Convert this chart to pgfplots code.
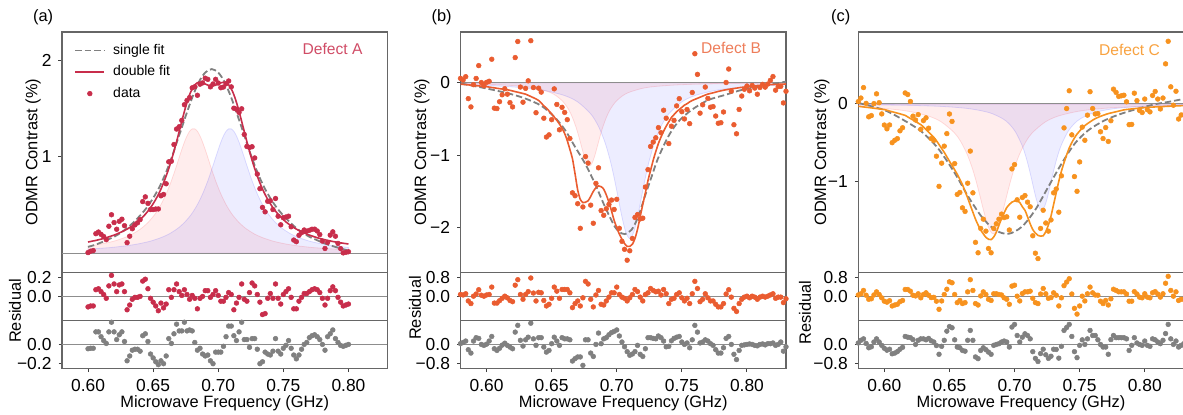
\documentclass[border=0pt]{standalone}
\usepackage{fontspec}
\setmainfont{Liberation Sans}
\usepackage{pgfplots}
\usepackage{pgfplotstable}
\pgfplotsset{compat=1.18}
\definecolor{cA}{RGB}{200,45,75}
\definecolor{cB}{RGB}{234,92,48}
\definecolor{cC}{RGB}{247,146,30}
\definecolor{gr}{RGB}{128,128,128}

% panel (a): x, data, residual double, residual single, red comp, blue comp, double fit
\pgfplotstableread{
x d rd rs R B D
0.600 0.006 -0.11 -0.045 0.074 0.042 0.116
0.602 0.021 -0.10 -0.04 0.078 0.044 0.121
0.604 0.027 -0.10 -0.04 0.082 0.045 0.127
0.606 0.202 0.07 0.13 0.086 0.047 0.132
0.608 0.219 0.08 0.13 0.090 0.049 0.139
0.610 0.195 0.05 0.08 0.095 0.051 0.145
0.612 0.173 0.02 0.04 0.100 0.053 0.153
0.614 0.140 -0.02 0.01 0.106 0.055 0.160
0.616 0.279 0.11 0.13 0.112 0.057 0.169
0.618 0.398 0.22 0.23 0.118 0.059 0.178
0.620 0.317 0.13 0.13 0.125 0.062 0.187
0.622 0.248 0.05 0.05 0.133 0.065 0.198
0.624 0.330 0.12 0.10 0.142 0.068 0.210
0.626 0.352 0.13 0.13 0.151 0.071 0.222
0.628 0.285 0.05 0.03 0.161 0.074 0.235
0.630 0.109 -0.14 -0.17 0.172 0.078 0.249
0.632 0.176 -0.09 -0.12 0.184 0.082 0.266
0.634 0.253 -0.03 -0.06 0.197 0.086 0.283
0.636 0.293 -0.01 -0.05 0.213 0.090 0.303
0.638 0.314 -0.01 -0.05 0.230 0.095 0.324
0.640 0.348 0.00 -0.07 0.248 0.100 0.348
0.642 0.534 0.16 0.09 0.268 0.106 0.374
0.644 0.583 0.18 0.11 0.292 0.112 0.403
0.646 0.516 0.08 0.03 0.317 0.118 0.436
0.648 0.452 -0.02 -0.10 0.347 0.125 0.472
0.650 0.452 -0.06 -0.14 0.379 0.133 0.512
0.652 0.457 -0.10 -0.18 0.415 0.142 0.557
0.654 0.458 -0.15 -0.21 0.457 0.151 0.608
0.656 0.594 -0.07 -0.17 0.503 0.161 0.664
0.658 0.608 -0.12 -0.20 0.556 0.172 0.728
0.660 0.719 -0.08 -0.12 0.614 0.184 0.799
0.662 0.946 0.07 0.06 0.679 0.197 0.876
0.664 0.952 -0.01 0.01 0.749 0.213 0.962
0.666 1.125 0.07 0.11 0.826 0.230 1.055
0.668 1.285 0.13 0.21 0.907 0.248 1.155
0.670 1.309 0.05 0.14 0.991 0.268 1.259
0.672 1.375 0.01 0.14 1.073 0.292 1.365
0.674 1.537 0.07 0.23 1.149 0.317 1.467
0.676 1.581 0.02 0.14 1.214 0.347 1.561
0.678 1.611 -0.03 0.15 1.262 0.379 1.641
0.680 1.712 0.01 0.14 1.287 0.415 1.702
0.682 1.723 -0.02 0.02 1.287 0.457 1.743
0.684 1.635 -0.13 -0.06 1.262 0.503 1.765
0.686 1.750 -0.02 -0.04 1.214 0.556 1.770
0.688 1.763 0.00 -0.10 1.149 0.614 1.763
0.690 1.812 0.06 -0.12 1.073 0.679 1.752
0.692 1.800 0.06 -0.11 0.991 0.749 1.740
0.694 1.722 -0.01 -0.17 0.907 0.826 1.732
0.696 1.752 0.02 -0.20 0.826 0.907 1.732
0.698 1.800 0.06 -0.08 0.749 0.991 1.740
0.700 1.762 0.01 -0.08 0.679 1.073 1.752
0.702 1.713 -0.05 -0.08 0.614 1.149 1.763
0.704 1.720 -0.05 -0.02 0.556 1.214 1.770
0.706 1.755 -0.01 0.08 0.503 1.262 1.765
0.708 1.783 0.04 0.19 0.457 1.287 1.743
0.710 1.722 0.02 0.19 0.415 1.287 1.702
0.712 1.501 -0.14 0.09 0.379 1.262 1.641
0.714 1.491 -0.07 0.04 0.347 1.214 1.561
0.716 1.457 -0.01 0.13 0.317 1.149 1.467
0.718 1.495 0.13 0.23 0.292 1.073 1.365
0.720 1.229 -0.03 0.05 0.268 0.991 1.259
0.722 1.105 -0.05 0.05 0.248 0.907 1.155
0.724 1.095 0.04 -0.03 0.230 0.826 1.055
0.726 1.102 0.14 0.06 0.213 0.749 0.962
0.728 0.986 0.11 0.06 0.197 0.679 0.876
0.730 0.819 0.02 -0.05 0.184 0.614 0.799
0.732 0.668 -0.06 -0.20 0.172 0.556 0.728
0.734 0.474 -0.19 -0.18 0.161 0.503 0.664
0.736 0.428 -0.18 -0.08 0.151 0.457 0.608
0.738 0.537 -0.02 -0.10 0.142 0.415 0.557
0.740 0.542 0.03 -0.11 0.133 0.379 0.512
0.742 0.452 -0.02 -0.07 0.125 0.347 0.472
0.744 0.566 0.13 0.06 0.118 0.317 0.436
0.746 0.383 -0.02 -0.07 0.112 0.292 0.403
0.748 0.294 -0.08 -0.10 0.106 0.268 0.374
0.750 0.368 0.02 -0.04 0.100 0.248 0.348
0.752 0.374 0.05 -0.01 0.095 0.230 0.324
0.754 0.383 0.08 0.04 0.090 0.213 0.303
0.756 0.273 -0.01 -0.04 0.086 0.197 0.283
0.758 0.136 -0.13 -0.11 0.082 0.184 0.266
0.760 0.119 -0.13 -0.15 0.078 0.172 0.249
0.762 0.185 -0.05 -0.11 0.074 0.161 0.235
0.764 0.212 -0.01 -0.05 0.071 0.151 0.222
0.766 0.240 0.03 0.00 0.068 0.142 0.210
0.768 0.228 0.03 0.02 0.065 0.133 0.198
0.770 0.237 0.05 0.07 0.062 0.125 0.187
0.772 0.248 0.07 0.09 0.059 0.118 0.178
0.774 0.249 0.08 0.10 0.057 0.112 0.169
0.776 0.230 0.07 0.08 0.055 0.106 0.160
0.778 0.193 0.04 0.05 0.053 0.100 0.153
0.780 0.125 -0.02 0.00 0.051 0.095 0.145
0.782 0.049 -0.09 -0.06 0.049 0.090 0.139
0.784 0.112 -0.02 0.08 0.047 0.086 0.132
0.786 0.187 0.06 0.11 0.045 0.082 0.127
0.788 0.221 0.10 0.15 0.044 0.078 0.121
0.790 0.176 0.06 0.06 0.042 0.074 0.116
0.792 0.101 -0.01 0.02 0.041 0.071 0.111
0.794 0.047 -0.06 -0.01 0.039 0.068 0.107
0.796 0.003 -0.10 -0.02 0.038 0.065 0.103
0.798 0.009 -0.09 -0.01 0.037 0.062 0.099
0.800 0.015 -0.08 0.00 0.035 0.059 0.095
}\tabA

% panel (b): x, data, residual double, residual single, double fit
\pgfplotstableread{
x d rd rs D
0.580 0.060 0.08 0.03 -0.020
0.582 0.037 0.06 0.08 -0.023
0.584 0.083 0.11 0.14 -0.027
0.586 -0.220 -0.19 -0.22 -0.030
0.588 -0.334 -0.30 -0.36 -0.034
0.590 -0.027 0.01 0.14 -0.037
0.592 0.059 0.10 0.28 -0.041
0.594 0.236 0.28 0.25 -0.044
0.596 0.002 0.05 0.00 -0.048
0.598 -0.041 0.01 -0.04 -0.051
0.600 0.005 0.06 0.01 -0.055
0.602 0.020 0.08 0.14 -0.060
0.604 0.324 0.39 0.33 -0.066
0.606 -0.351 -0.28 -0.18 -0.071
0.608 -0.357 -0.28 -0.25 -0.077
0.610 -0.262 -0.18 -0.16 -0.082
0.612 -0.167 -0.08 -0.03 -0.087
0.614 -0.083 0.01 0.05 -0.093
0.616 -0.158 -0.06 -0.04 -0.098
0.618 -0.275 -0.17 -0.11 -0.105
0.620 -0.334 -0.22 -0.18 -0.114
0.622 0.347 0.47 0.51 -0.123
0.624 0.569 0.70 0.79 -0.131
0.626 -0.060 0.08 0.17 -0.140
0.628 -0.269 -0.12 -0.07 -0.149
0.630 -0.078 0.08 0.19 -0.158
0.632 0.026 0.20 0.30 -0.174
0.634 0.580 0.77 0.88 -0.190
0.636 -0.067 0.14 0.23 -0.207
0.638 -0.414 -0.19 -0.04 -0.224
0.640 -0.075 0.17 0.28 -0.245
0.642 -0.130 0.15 0.28 -0.280
0.644 -0.490 -0.17 -0.11 -0.320
0.646 -0.750 -0.40 -0.32 -0.350
0.648 -0.720 -0.33 -0.25 -0.390
0.650 -0.510 -0.08 0.03 -0.430
0.652 -0.085 0.39 0.30 -0.475
0.654 -0.300 0.22 0.14 -0.520
0.656 -0.650 -0.08 -0.04 -0.570
0.658 -0.340 0.29 0.28 -0.630
0.660 -0.410 0.29 0.23 -0.700
0.662 -0.510 0.29 0.23 -0.800
0.664 -0.770 0.15 0.19 -0.920
0.666 -1.520 -0.47 -0.69 -1.050
0.668 -1.560 -0.30 -0.59 -1.260
0.670 -1.670 -0.19 -0.52 -1.480
0.672 -2.010 -0.40 -0.52 -1.610
0.674 -1.715 -0.06 -0.87 -1.655
0.676 -1.020 0.63 0.19 -1.650
0.678 -1.110 0.52 0.19 -1.630
0.680 -1.690 -0.12 -0.36 -1.570
0.682 -1.940 -0.44 -0.50 -1.500
0.684 -1.390 0.06 0.00 -1.450
0.686 -1.175 0.25 0.47 -1.425
0.688 -1.765 -0.33 0.03 -1.435
0.690 -1.830 -0.36 0.23 -1.470
0.692 -1.740 -0.19 0.28 -1.550
0.694 -1.680 -0.03 0.40 -1.650
0.696 -1.620 0.15 0.49 -1.770
0.698 -1.750 0.15 0.54 -1.900
0.700 -1.610 0.39 0.60 -2.000
0.702 -2.010 0.08 0.35 -2.090
0.704 -2.190 -0.03 0.10 -2.160
0.706 -2.300 -0.08 -0.10 -2.220
0.708 -2.450 -0.19 -0.30 -2.260
0.710 -2.320 -0.06 -0.45 -2.260
0.712 -2.150 0.08 -0.40 -2.230
0.714 -1.860 0.29 -0.30 -2.150
0.716 -1.820 0.20 -0.04 -2.020
0.718 -1.880 -0.03 -0.41 -1.850
0.720 -1.870 -0.19 -0.50 -1.680
0.722 -1.440 0.08 -0.18 -1.520
0.724 -1.200 0.15 0.28 -1.350
0.726 -0.880 0.33 0.28 -1.210
0.728 -0.820 0.25 0.25 -1.070
0.730 -0.760 0.19 0.23 -0.950
0.732 -0.620 0.22 0.35 -0.840
0.734 -0.690 0.06 0.28 -0.750
0.736 -0.380 0.29 0.14 -0.670
0.738 -0.490 0.11 -0.10 -0.600
0.740 -0.840 -0.30 -0.08 -0.540
0.742 -0.600 -0.12 0.15 -0.480
0.744 -0.520 -0.08 0.25 -0.440
0.746 -0.320 0.08 0.30 -0.400
0.748 -0.220 0.15 0.33 -0.370
0.750 -0.400 -0.06 0.10 -0.340
0.752 -0.500 -0.19 0.00 -0.310
0.754 -0.370 -0.08 0.06 -0.290
0.756 -0.565 -0.30 -0.14 -0.265
0.758 -0.135 0.11 0.19 -0.245
0.760 0.400 0.63 0.79 -0.230
0.762 0.115 0.33 0.51 -0.215
0.764 -0.420 -0.22 0.06 -0.200
0.766 -0.305 -0.12 0.10 -0.185
0.768 -0.060 0.11 0.19 -0.170
0.770 -0.217 -0.06 0.14 -0.157
0.772 -0.338 -0.19 0.03 -0.148
0.774 -0.330 -0.19 -0.04 -0.140
0.776 -0.460 -0.33 -0.22 -0.130
0.778 -0.560 -0.44 -0.36 -0.120
0.780 -0.552 -0.44 -0.36 -0.112
0.782 -0.404 -0.30 -0.14 -0.104
0.784 0.003 0.10 0.25 -0.097
0.786 0.189 0.28 0.33 -0.091
0.788 -0.116 -0.03 0.00 -0.086
0.790 -0.580 -0.50 -0.41 -0.080
0.792 -0.705 -0.63 -0.63 -0.075
0.794 -0.369 -0.30 -0.25 -0.069
0.796 -0.184 -0.12 -0.04 -0.064
0.798 -0.090 -0.03 -0.02 -0.060
0.800 -0.046 0.01 0.00 -0.056
0.802 -0.112 -0.06 0.02 -0.052
0.804 -0.038 0.01 0.00 -0.048
0.806 -0.074 -0.03 -0.04 -0.044
0.808 -0.159 -0.12 -0.06 -0.039
0.810 -0.066 -0.03 0.00 -0.036
0.812 -0.023 0.01 0.02 -0.033
0.814 -0.061 -0.03 -0.02 -0.031
0.816 -0.019 0.01 0.03 -0.029
0.818 0.033 0.06 0.03 -0.027
0.820 0.085 0.11 0.06 -0.025
0.822 -0.103 -0.08 -0.04 -0.023
0.824 -0.052 -0.03 0.00 -0.022
0.826 -0.050 -0.03 0.10 -0.020
0.828 -0.279 -0.26 -0.28 -0.019
0.830 -0.118 -0.10 -0.10 -0.018
}\tabB

% panel (c): x, data, residual double, residual single, double fit
\pgfplotstableread{
x d rd rs D
0.580 0.030 0.06 0.06 -0.030
0.582 0.076 0.11 0.17 -0.034
0.584 0.211 0.25 0.23 -0.039
0.586 0.007 0.05 0.04 -0.043
0.588 -0.167 -0.12 -0.14 -0.047
0.590 -0.151 -0.10 -0.10 -0.051
0.592 0.004 0.06 0.10 -0.056
0.594 0.130 0.19 0.23 -0.060
0.596 0.016 0.08 0.10 -0.064
0.598 -0.129 -0.06 -0.04 -0.069
0.600 -0.273 -0.20 -0.16 -0.073
0.602 -0.322 -0.24 -0.24 -0.082
0.604 -0.272 -0.18 -0.20 -0.092
0.606 -0.501 -0.40 -0.39 -0.101
0.608 -0.470 -0.36 -0.36 -0.110
0.610 -0.449 -0.33 -0.30 -0.119
0.612 -0.348 -0.22 -0.20 -0.128
0.614 -0.308 -0.17 -0.12 -0.138
0.616 0.142 0.29 0.33 -0.148
0.618 0.122 0.29 0.30 -0.168
0.620 0.032 0.22 0.28 -0.188
0.622 -0.158 0.05 0.20 -0.208
0.624 -0.208 0.02 0.00 -0.228
0.626 -0.138 0.11 0.17 -0.248
0.628 -0.328 -0.06 0.23 -0.268
0.630 -0.216 0.08 0.23 -0.296
0.632 -0.180 0.15 0.19 -0.330
0.634 -0.314 0.05 0.25 -0.364
0.636 -0.448 -0.05 0.15 -0.398
0.638 -0.472 -0.04 0.10 -0.432
0.640 -0.676 -0.20 -0.05 -0.476
0.642 -1.066 -0.54 -0.41 -0.526
0.644 -0.766 -0.19 -0.08 -0.576
0.646 -0.546 0.08 0.17 -0.626
0.648 -0.384 0.30 0.55 -0.684
0.650 -0.130 0.61 0.74 -0.740
0.652 -0.226 0.57 0.69 -0.796
0.654 -0.772 0.08 0.19 -0.852
0.656 -1.170 -0.26 -0.11 -0.910
0.658 -1.145 -0.17 -0.14 -0.975
0.660 -1.344 -0.30 -0.25 -1.044
0.662 -1.390 -0.26 -0.28 -1.130
0.664 -1.025 0.19 0.17 -1.215
0.666 -0.610 0.70 0.58 -1.310
0.668 -1.150 0.25 0.17 -1.400
0.670 -1.790 -0.30 -0.52 -1.490
0.672 -1.925 -0.36 -0.59 -1.565
0.674 -1.610 0.02 -0.25 -1.630
0.676 -1.490 0.19 -0.14 -1.680
0.678 -1.645 0.08 -0.22 -1.725
0.680 -1.870 -0.12 -0.32 -1.750
0.682 -1.925 -0.17 -0.41 -1.755
0.684 -1.610 0.11 -0.04 -1.720
0.686 -1.550 0.11 0.00 -1.660
0.688 -1.490 0.08 0.03 -1.570
0.690 -1.425 0.06 0.10 -1.485
0.692 -1.470 -0.06 0.14 -1.410
0.694 -1.460 -0.12 0.10 -1.340
0.696 -1.630 -0.33 -0.11 -1.300
0.698 -0.840 0.43 0.72 -1.270
0.700 -0.785 0.47 0.83 -1.255
0.702 -1.240 0.01 0.37 -1.250
0.704 -1.465 -0.19 0.10 -1.275
0.706 -1.210 0.12 0.30 -1.330
0.708 -1.185 0.19 0.44 -1.375
0.710 -1.270 0.19 0.37 -1.460
0.712 -1.330 0.22 0.23 -1.550
0.714 -1.705 -0.08 -0.30 -1.625
0.716 -1.930 -0.26 -0.58 -1.670
0.718 -2.000 -0.30 -0.71 -1.700
0.720 -1.610 0.10 -0.38 -1.710
0.722 -1.375 0.33 -0.20 -1.705
0.724 -1.540 0.11 -0.43 -1.650
0.726 -1.645 -0.08 -0.58 -1.565
0.728 -1.500 -0.05 -0.49 -1.450
0.730 -1.150 0.15 -0.20 -1.300
0.732 -1.100 0.05 -0.21 -1.150
0.734 -1.400 -0.40 -0.57 -1.000
0.736 -0.930 -0.06 -0.08 -0.870
0.738 -0.310 0.45 0.58 -0.760
0.740 -0.060 0.60 0.70 -0.660
0.742 0.170 0.74 0.83 -0.570
0.744 -0.400 0.10 0.33 -0.500
0.746 -0.940 -0.50 -0.30 -0.440
0.748 -1.130 -0.74 -0.55 -0.390
0.750 -0.750 -0.40 -0.04 -0.350
0.752 -0.300 0.01 0.19 -0.310
0.754 -0.470 -0.19 0.00 -0.280
0.756 -0.145 0.11 0.23 -0.255
0.758 0.158 0.39 0.58 -0.232
0.760 -0.060 0.15 0.37 -0.210
0.762 -0.130 0.06 0.37 -0.190
0.764 -0.125 0.05 0.19 -0.175
0.766 -0.360 -0.20 0.00 -0.160
0.768 -0.448 -0.30 -0.11 -0.148
0.770 -0.306 -0.17 -0.11 -0.136
0.772 -0.485 -0.36 -0.41 -0.125
0.774 -0.217 -0.10 0.20 -0.117
0.776 0.191 0.30 0.37 -0.109
0.778 0.149 0.25 0.28 -0.101
0.780 0.097 0.19 0.28 -0.093
0.782 0.105 0.19 0.28 -0.085
0.784 0.113 0.19 0.28 -0.077
0.786 0.028 0.10 0.23 -0.072
0.788 -0.268 -0.20 -0.25 -0.068
0.790 -0.265 -0.20 -0.04 -0.065
0.792 0.139 0.20 0.28 -0.061
0.794 0.042 0.10 0.06 -0.058
0.796 -0.084 -0.03 0.00 -0.054
0.798 -0.111 -0.06 -0.04 -0.051
0.800 0.063 0.11 0.14 -0.047
0.802 -0.075 -0.03 -0.04 -0.045
0.804 -0.103 -0.06 -0.08 -0.043
0.806 0.109 0.15 0.23 -0.041
0.808 0.161 0.20 0.19 -0.039
0.810 0.063 0.10 0.10 -0.037
0.812 -0.065 -0.03 0.03 -0.035
0.814 0.076 0.11 0.17 -0.034
0.816 0.518 0.55 0.45 -0.032
0.818 0.810 0.84 0.83 -0.030
0.820 0.221 0.25 0.23 -0.029
0.822 -0.017 0.01 0.00 -0.027
0.824 0.164 0.19 0.14 -0.026
0.826 -0.195 -0.17 -0.11 -0.025
0.828 -0.143 -0.12 -0.04 -0.023
0.830 -0.142 -0.12 0.03 -0.022
}\tabC

\pgfplotsset{
  base/.style={scale only axis, width=162.75pt, xmin=0.58, xmax=0.83,
    axis line style={draw=black!60, line width=0.6pt},
    tick style={draw=black!75, line width=0.5pt},
    tick align=outside, major tick length=1.75pt,
    xtick pos=left, ytick pos=left,
    tick label style={font=\fontsize{8.7}{10}\selectfont},
    label style={font=\fontsize{8.2}{10}\selectfont},
    clip mode=individual},
  mainax/.style={base, height=120.25pt, xtick=\empty},
  resone/.style={base, height=23.9pt, xtick=\empty},
  restwo/.style={base, height=24.1pt, xtick={0.6,0.65,0.7,0.75,0.8},
    xticklabels={0.60,0.65,0.70,0.75,0.80},
    xlabel={Microwave Frequency (GHz)},
    xlabel style={at={(axis description cs:0.5,-0.80)}, anchor=base}},
  ptmark/.style={only marks, mark=*, mark size=1.2pt, color=#1,
    mark options={solid, fill=#1, draw=#1, line width=0.25pt, line join=round}},
  zl/.style={draw=gr!90, line width=0.5pt, forget plot},
  fillr/.style={fill=red, fill opacity=0.07, draw=red, draw opacity=0.12, line width=0.4pt, forget plot, smooth},
  fillb/.style={fill=blue, fill opacity=0.07, draw=blue, draw opacity=0.12, line width=0.4pt, forget plot, smooth},
  sfit/.style={draw=gr, line width=0.9pt, dash pattern=on 3.2pt off 1.5pt, smooth},
  dfit/.style={draw=#1, line width=0.8pt, smooth},
}
\tikzset{
  panlab/.style={font=\fontsize{8.2}{10}\selectfont, anchor=center},
  deflab/.style={font=\fontsize{7.8}{9}\selectfont, anchor=east, text=#1},
  reslab/.style={font=\fontsize{8.2}{10}\selectfont, anchor=center, rotate=90},
}

\begin{document}
\begin{tikzpicture}
\useasboundingbox (0,0) rectangle (591.5pt,207pt);

% ================= panel (a) =================
\begin{axis}[mainax, at={(31pt,70.75pt)}, anchor=south west,
  ymin=-0.2, ymax=2.29, ytick={1,2}, yticklabels={1,2},
  ylabel={ODMR Contrast (\%)},
  ylabel style={at={(axis description cs:-0.089,0.5)}, anchor=center},
  legend cell align=left,
  legend style={at={(axis description cs:0.037,0.953)}, anchor=north west,
    draw=none, fill=none, inner sep=0pt, row sep=4.1pt, column sep=4pt,
    font=\fontsize{7}{8}\selectfont,
    nodes={inner sep=0pt, text height=5.2pt, text depth=1.5pt}},
  legend image code/.code={\draw[mark repeat=2,mark phase=2,#1] plot coordinates {(0pt,0pt) (7.25pt,0pt) (14.5pt,0pt)};}]
\addplot[fillr] table[x=x,y=R]{\tabA} \closedcycle;
\addplot[fillb] table[x=x,y=B]{\tabA} \closedcycle;
\addplot[zl] coordinates {(0.58,0) (0.83,0)};
\addplot[sfit] coordinates {(0.600,0.065) (0.605,0.085) (0.610,0.11) (0.615,0.14) (0.620,0.17) (0.625,0.21) (0.630,0.26) (0.635,0.32) (0.640,0.39) (0.645,0.47) (0.650,0.57) (0.655,0.69) (0.660,0.84) (0.665,1.02) (0.670,1.22) (0.675,1.42) (0.680,1.61) (0.685,1.77) (0.690,1.87) (0.695,1.906) (0.700,1.87) (0.705,1.77) (0.710,1.61) (0.715,1.42) (0.720,1.22) (0.725,1.02) (0.730,0.84) (0.735,0.69) (0.740,0.57) (0.745,0.47) (0.750,0.39) (0.755,0.32) (0.760,0.26) (0.765,0.21) (0.770,0.17) (0.775,0.14) (0.780,0.11) (0.785,0.085) (0.790,0.065) (0.795,0.045) (0.800,0.028)};
\addlegendentry{single fit}
\addplot[dfit=cA] table[x=x,y=D]{\tabA};
\addlegendentry{double fit}
\addplot[ptmark=cA] table[x=x,y=d]{\tabA};
\addlegendentry{data}
\node[panlab] at (axis description cs:-0.058,1.060) {(a)};
\node[deflab=cA!85!white] at (axis description cs:0.945,0.931) {Defect A};
\end{axis}

\begin{axis}[resone, at={(31pt,46.85pt)}, anchor=south west,
  ymin=-0.25, ymax=0.25, ytick={0,0.2}, yticklabels={0.0,0.2}]
\addplot[zl] coordinates {(0.58,0) (0.83,0)};
\addplot[ptmark=cA] table[x=x,y=rd]{\tabA};
\end{axis}

\begin{axis}[restwo, at={(31pt,22.75pt)}, anchor=south west,
  ymin=-0.25, ymax=0.25, ytick={-0.2,0}, yticklabels={−0.2,0.0}]
\addplot[zl] coordinates {(0.58,0) (0.83,0)};
\addplot[ptmark=gr] table[x=x,y=rs]{\tabA};
\node[reslab] at (axis description cs:-0.144,1.193) {Residual};
\end{axis}

% ================= panel (b) =================
\begin{axis}[mainax, at={(230.25pt,70.75pt)}, anchor=south west,
  ymin=-2.62, ymax=0.70, ytick={-2,-1,0}, yticklabels={−2,−1,0},
  ylabel={ODMR Contrast (\%)},
  ylabel style={at={(axis description cs:-0.119,0.5)}, anchor=center}]
\addplot[fillr] coordinates {(0.58,-0.014) (0.609,-0.028) (0.629,-0.053) (0.639,-0.081) (0.649,-0.136) (0.654,-0.187) (0.659,-0.267) (0.663,-0.369) (0.666,-0.48) (0.669,-0.63) (0.671,-0.752) (0.673,-0.886) (0.675,-1.016) (0.677,-1.113) (0.679,-1.15) (0.681,-1.113) (0.683,-1.016) (0.685,-0.886) (0.687,-0.752) (0.689,-0.63) (0.692,-0.48) (0.695,-0.369) (0.699,-0.267) (0.704,-0.187) (0.709,-0.136) (0.719,-0.081) (0.729,-0.053) (0.749,-0.028) (0.779,-0.014) (0.83,-0.006)} \closedcycle;
\addplot[fillb] coordinates {(0.58,-0.028) (0.61,-0.047) (0.63,-0.073) (0.645,-0.109) (0.66,-0.178) (0.67,-0.265) (0.68,-0.43) (0.686,-0.604) (0.691,-0.826) (0.695,-1.075) (0.698,-1.311) (0.701,-1.581) (0.704,-1.853) (0.707,-2.067) (0.710,-2.15) (0.713,-2.067) (0.716,-1.853) (0.719,-1.581) (0.722,-1.311) (0.725,-1.075) (0.729,-0.826) (0.734,-0.604) (0.74,-0.43) (0.75,-0.265) (0.76,-0.178) (0.775,-0.109) (0.79,-0.073) (0.81,-0.047) (0.83,-0.03)} \closedcycle;
\addplot[zl] coordinates {(0.58,0) (0.83,0)};
\addplot[sfit] coordinates {(0.5803,-0.01) (0.60,-0.08) (0.6166,-0.147) (0.6294,-0.216) (0.6422,-0.32) (0.6525,-0.48) (0.6602,-0.65) (0.6678,-0.88) (0.6755,-1.11) (0.6832,-1.39) (0.6909,-1.71) (0.6986,-1.99) (0.7037,-2.08) (0.7062,-2.09) (0.7114,-2.03) (0.7165,-1.85) (0.7216,-1.57) (0.7267,-1.30) (0.7318,-1.04) (0.7395,-0.745) (0.7472,-0.54) (0.7574,-0.377) (0.7702,-0.24) (0.783,-0.17) (0.7959,-0.10) (0.8087,-0.055) (0.83,0.015)};
\addplot[dfit=cB] table[x=x,y=D]{\tabB};
\addplot[ptmark=cB] table[x=x,y=d]{\tabB};
\node[panlab] at (axis description cs:-0.058,1.060) {(b)};
\node[deflab=cB!80!white] at (axis description cs:0.945,0.935) {Defect B};
\end{axis}

\begin{axis}[resone, at={(230.25pt,46.85pt)}, anchor=south west,
  ymin=-1, ymax=1, ytick={0,0.8}, yticklabels={0.0,0.8}]
\addplot[zl] coordinates {(0.58,0) (0.83,0)};
\addplot[ptmark=cB] table[x=x,y=rd]{\tabB};
\end{axis}

\begin{axis}[restwo, at={(230.25pt,22.75pt)}, anchor=south west,
  ymin=-1, ymax=1, ytick={-0.8,0}, yticklabels={−0.8,0.0}]
\addplot[zl] coordinates {(0.58,0) (0.83,0)};
\addplot[ptmark=gr] table[x=x,y=rs]{\tabB};
\node[reslab] at (axis description cs:-0.14,1.255) {Residual};
\end{axis}

% ================= panel (c) =================
\begin{axis}[mainax, at={(429.15pt,70.75pt)}, anchor=south west,
  ymin=-2.18, ymax=0.93, ytick={-1,0}, yticklabels={−1,0},
  ylabel={ODMR Contrast (\%)},
  ylabel style={at={(axis description cs:-0.112,0.5)}, anchor=center}]
\addplot[fillr] coordinates {(0.58,-0.039) (0.6037,-0.065) (0.6187,-0.096) (0.6337,-0.156) (0.6437,-0.232) (0.6537,-0.372) (0.6587,-0.488) (0.6637,-0.656) (0.6677,-0.84) (0.6707,-1.012) (0.6737,-1.208) (0.6757,-1.344) (0.6777,-1.473) (0.6797,-1.581) (0.6817,-1.654) (0.6837,-1.68) (0.6857,-1.654) (0.6877,-1.581) (0.6897,-1.473) (0.6917,-1.344) (0.6937,-1.208) (0.6967,-1.012) (0.6997,-0.84) (0.7037,-0.656) (0.7087,-0.488) (0.7137,-0.372) (0.7237,-0.232) (0.7337,-0.156) (0.7487,-0.096) (0.7637,-0.065) (0.7837,-0.042) (0.83,-0.02)} \closedcycle;
\addplot[fillb] coordinates {(0.58,-0.01) (0.6208,-0.0195) (0.6458,-0.034) (0.6658,-0.063) (0.6808,-0.114) (0.6908,-0.19) (0.6958,-0.257) (0.7008,-0.364) (0.7058,-0.537) (0.7088,-0.6875) (0.7108,-0.812) (0.7128,-0.952) (0.7148,-1.10) (0.7168,-1.2375) (0.7188,-1.338) (0.7208,-1.375) (0.7228,-1.338) (0.7248,-1.2375) (0.7268,-1.10) (0.7288,-0.952) (0.7308,-0.812) (0.7328,-0.6875) (0.7358,-0.537) (0.7408,-0.364) (0.7458,-0.257) (0.7508,-0.19) (0.7608,-0.114) (0.7758,-0.063) (0.7958,-0.034) (0.8208,-0.0195) (0.83,-0.015)} \closedcycle;
\addplot[zl] coordinates {(0.58,0) (0.83,0)};
\addplot[sfit] coordinates {(0.58,0.013) (0.60,-0.08) (0.6159,-0.22) (0.6287,-0.36) (0.6415,-0.58) (0.6543,-0.90) (0.6645,-1.20) (0.6748,-1.46) (0.685,-1.63) (0.6952,-1.68) (0.7055,-1.59) (0.7157,-1.375) (0.726,-1.07) (0.7362,-0.77) (0.7464,-0.51) (0.7567,-0.34) (0.7695,-0.21) (0.7823,-0.125) (0.7951,-0.06) (0.8079,-0.004) (0.8181,0.026) (0.83,0.065)};
\addplot[dfit=cC] table[x=x,y=D]{\tabC};
\addplot[ptmark=cC] table[x=x,y=d]{\tabC};
\node[panlab] at (axis description cs:-0.054,1.060) {(c)};
\node[deflab=cC!85!white] at (axis description cs:0.948,0.924) {Defect C};
\end{axis}

\begin{axis}[resone, at={(429.15pt,46.85pt)}, anchor=south west,
  ymin=-1, ymax=1, ytick={0,0.8}, yticklabels={0.0,0.8}]
\addplot[zl] coordinates {(0.58,0) (0.83,0)};
\addplot[ptmark=cC] table[x=x,y=rd]{\tabC};
\end{axis}

\begin{axis}[restwo, at={(429.15pt,22.75pt)}, anchor=south west,
  ymin=-1, ymax=1, ytick={-0.8,0}, yticklabels={−0.8,0.0}]
\addplot[zl] coordinates {(0.58,0) (0.83,0)};
\addplot[ptmark=gr] table[x=x,y=rs]{\tabC};
\node[reslab] at (axis description cs:-0.164,1.16) {Residual};
\end{axis}
\end{tikzpicture}
\end{document}
